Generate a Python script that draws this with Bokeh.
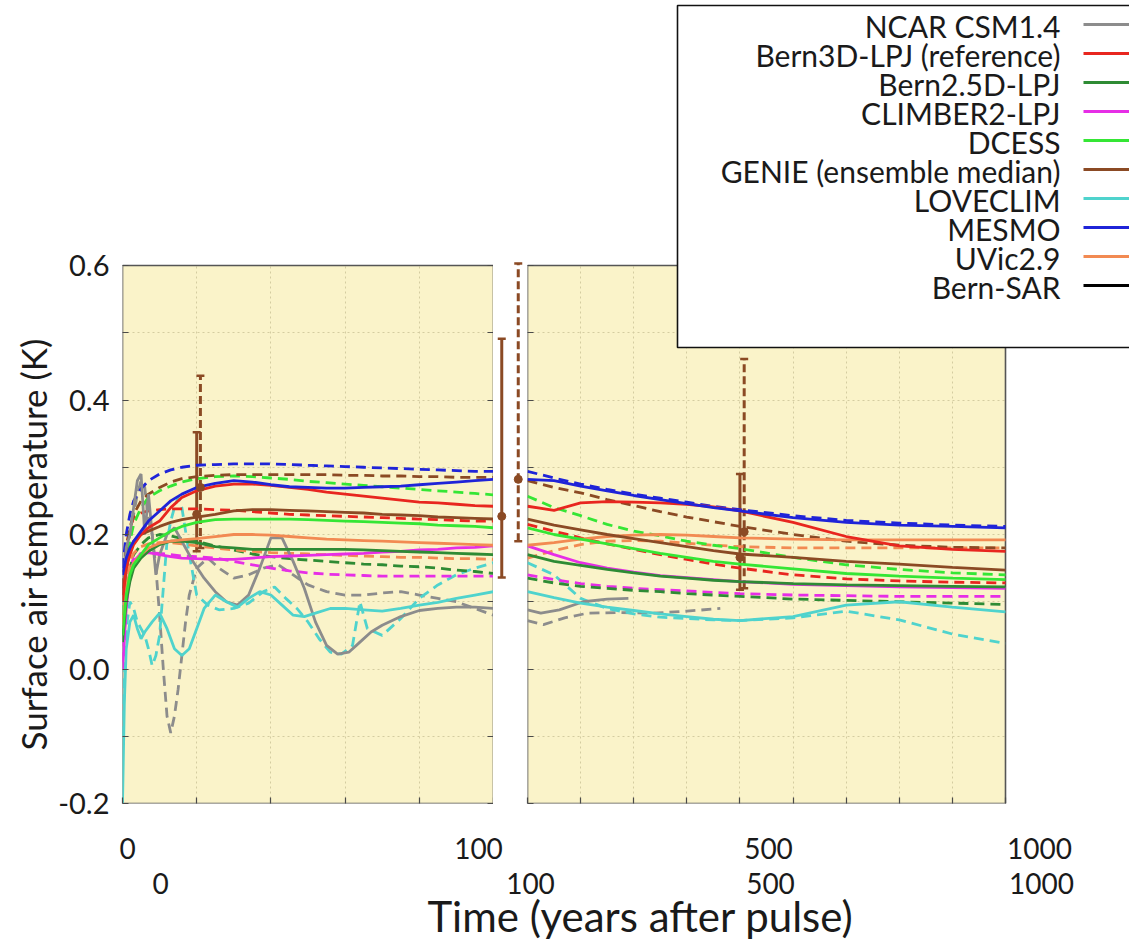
from bokeh.plotting import figure
from bokeh.models import (Range1d, FactorRange, FixedTicker, LinearAxis, Label, BoxAnnotation,
                          Whisker, ColumnDataSource, TeeHead, NumeralTickFormatter, Title)
from bokeh.layouts import row, column
from bokeh.embed import file_html
from bokeh.resources import INLINE

FONT = "Lato"

# ------------------------------------------------------------------ data
MODELS = ["NCAR CSM1.4", "Bern3D-LPJ (reference)", "Bern2.5D-LPJ", "CLIMBER2-LPJ", "DCESS",
          "GENIE (ensemble median)", "LOVECLIM", "MESMO", "UVic2.9", "Bern-SAR"]
COLORS = ["#8c8c8c", "#e8261f", "#2e8b34", "#e62ee6", "#35e635",
          "#8b4a24", "#4fd3cd", "#1f24d8", "#f28a52", "#000000"]

Y_MIN, Y_MAX = -0.2, 0.6
Y_MAJOR = [-0.2, 0, 0.2, 0.4, 0.6]
Y_MINOR = [-0.1, 0.1, 0.3, 0.5]
Y_ALL = [-0.2, -0.1, 0, 0.1, 0.2, 0.3, 0.4, 0.5, 0.6]
X_L = (0, 100)
X_R = (100, 1000)
X_TICKS_L = [0, 20, 40, 60, 80, 100]
X_TICKS_R = [100, 200, 300, 400, 500, 600, 700, 800, 900, 1000]
X_LABELS_L = ["0", "100"]
X_LABELS_R = ["500", "1000"]
X_TITLE = "Time (years after pulse)"
Y_TITLE = "Surface air temperature (K)"

YR_L = [0, 1, 2, 3, 5, 7, 10, 13, 16, 20, 25, 30, 35, 40, 45, 50, 55, 60, 65, 70, 75, 80, 85, 90, 95, 100]
YR_R = [100, 150, 200, 250, 300, 350, 400, 450, 500, 600, 700, 800, 900, 1000]

# solid (a) and dashed (b) runs, years 0-100
mesmo_a_L = [0.14, 0.165, 0.18, 0.19, 0.205, 0.22, 0.235, 0.25, 0.26, 0.27, 0.276, 0.28, 0.278, 0.274, 0.271, 0.27, 0.269, 0.269, 0.27, 0.271, 0.272, 0.274, 0.276, 0.278, 0.28, 0.282]
mesmo_b_L = [0.15, 0.2, 0.23, 0.25, 0.268, 0.28, 0.29, 0.296, 0.3, 0.303, 0.304, 0.305, 0.305, 0.305, 0.304, 0.303, 0.302, 0.301, 0.3, 0.299, 0.298, 0.297, 0.296, 0.295, 0.294, 0.294]
bern3d_a_L = [0.1, 0.15, 0.17, 0.185, 0.2, 0.21, 0.22, 0.24, 0.255, 0.265, 0.272, 0.275, 0.275, 0.273, 0.27, 0.267, 0.263, 0.26, 0.257, 0.254, 0.251, 0.248, 0.247, 0.245, 0.243, 0.242]
bern3d_b_L = [0.12, 0.18, 0.21, 0.225, 0.232, 0.235, 0.237, 0.238, 0.238, 0.238, 0.237, 0.236, 0.234, 0.232, 0.23, 0.229, 0.228, 0.227, 0.226, 0.225, 0.224, 0.223, 0.222, 0.221, 0.22, 0.22]
genie_a_L = [0.11, 0.15, 0.175, 0.19, 0.2, 0.205, 0.212, 0.218, 0.222, 0.226, 0.23, 0.235, 0.237, 0.237, 0.236, 0.235, 0.234, 0.233, 0.232, 0.23, 0.229, 0.228, 0.226, 0.225, 0.224, 0.223]
genie_b_L = [0.12, 0.18, 0.21, 0.23, 0.25, 0.26, 0.27, 0.278, 0.283, 0.286, 0.288, 0.289, 0.289, 0.289, 0.289, 0.289, 0.289, 0.288, 0.288, 0.287, 0.287, 0.286, 0.286, 0.285, 0.285, 0.285]
dcess_a_L = [0.05, 0.11, 0.14, 0.155, 0.17, 0.185, 0.195, 0.205, 0.212, 0.218, 0.222, 0.223, 0.223, 0.223, 0.223, 0.222, 0.221, 0.22, 0.219, 0.218, 0.217, 0.216, 0.214, 0.213, 0.212, 0.21]
dcess_b_L = [0.08, 0.15, 0.19, 0.215, 0.24, 0.255, 0.265, 0.272, 0.278, 0.283, 0.286, 0.287, 0.286, 0.284, 0.282, 0.279, 0.277, 0.275, 0.273, 0.271, 0.269, 0.267, 0.265, 0.263, 0.261, 0.259]
uvic_a_L = [0.06, 0.12, 0.145, 0.158, 0.17, 0.18, 0.187, 0.19, 0.192, 0.194, 0.197, 0.2, 0.2, 0.199, 0.197, 0.195, 0.193, 0.192, 0.191, 0.19, 0.189, 0.188, 0.187, 0.186, 0.185, 0.184]
uvic_b_L = [0.07, 0.13, 0.16, 0.172, 0.182, 0.186, 0.188, 0.188, 0.186, 0.183, 0.18, 0.177, 0.175, 0.173, 0.172, 0.171, 0.17, 0.169, 0.168, 0.167, 0.166, 0.166, 0.165, 0.164, 0.164, 0.163]
bern25_a_L = [0.04, 0.1, 0.13, 0.15, 0.165, 0.175, 0.185, 0.19, 0.19, 0.188, 0.182, 0.18, 0.178, 0.178, 0.178, 0.178, 0.178, 0.178, 0.177, 0.176, 0.175, 0.174, 0.173, 0.172, 0.171, 0.17]
bern25_b_L = [0.05, 0.12, 0.15, 0.17, 0.185, 0.195, 0.2, 0.198, 0.194, 0.19, 0.183, 0.177, 0.171, 0.167, 0.164, 0.162, 0.16, 0.158, 0.156, 0.155, 0.153, 0.152, 0.15, 0.147, 0.145, 0.142]
climber_a_L = [0.0, 0.09, 0.14, 0.16, 0.172, 0.173, 0.17, 0.167, 0.165, 0.164, 0.163, 0.163, 0.165, 0.167, 0.168, 0.169, 0.17, 0.171, 0.172, 0.174, 0.175, 0.177, 0.178, 0.18, 0.181, 0.183]
climber_b_L = [0.01, 0.1, 0.15, 0.165, 0.172, 0.173, 0.172, 0.17, 0.168, 0.167, 0.165, 0.16, 0.155, 0.15, 0.146, 0.143, 0.141, 0.14, 0.139, 0.138, 0.138, 0.138, 0.138, 0.138, 0.138, 0.138]

ncar_a_yrL = [0, 1, 2, 3, 4, 5, 6, 7, 8, 9, 10, 12, 14, 16, 19, 22, 25, 28, 31, 34, 37, 40, 43, 46, 49, 52, 55, 58, 61, 64, 67, 70, 75, 80, 85, 90, 95, 100]
ncar_a_L = [0.1, 0.18, 0.2, 0.24, 0.28, 0.29, 0.2, 0.26, 0.2, 0.14, 0.17, 0.2, 0.21, 0.19, 0.16, 0.135, 0.115, 0.1, 0.095, 0.11, 0.15, 0.195, 0.195, 0.16, 0.12, 0.07, 0.035, 0.022, 0.025, 0.04, 0.055, 0.065, 0.078, 0.087, 0.09, 0.092, 0.092, 0.09]
ncar_b_yrL = [0, 1, 2, 3, 4, 5, 6, 7, 8, 9, 10, 11, 12, 13, 14, 15, 16, 17, 18, 20, 23, 26, 30, 34, 38, 42, 46, 50, 55, 60, 65, 70, 75, 80, 85, 90, 95, 100]
ncar_b_L = [0.1, 0.17, 0.2, 0.23, 0.26, 0.28, 0.27, 0.22, 0.2, 0.15, 0.08, 0.0, -0.07, -0.095, -0.07, -0.03, 0.02, 0.07, 0.11, 0.15, 0.165, 0.15, 0.135, 0.14, 0.15, 0.155, 0.14, 0.125, 0.115, 0.11, 0.11, 0.113, 0.115, 0.11, 0.105, 0.1, 0.09, 0.08]
love_a_yrL = [0, 0.5, 1, 2, 3, 4, 5, 6, 8, 10, 12, 14, 16, 18, 20, 22, 25, 28, 31, 34, 37, 40, 43, 46, 49, 52, 56, 60, 65, 70, 75, 80, 85, 90, 95, 100]
love_a_L = [-0.2, -0.05, 0.03, 0.07, 0.08, 0.06, 0.045, 0.055, 0.07, 0.083, 0.06, 0.03, 0.02, 0.03, 0.06, 0.09, 0.11, 0.1, 0.092, 0.105, 0.115, 0.11, 0.095, 0.08, 0.078, 0.083, 0.09, 0.09, 0.088, 0.086, 0.09, 0.095, 0.099, 0.105, 0.11, 0.115]
love_b_yrL = [0, 1, 2, 3, 4, 5, 6, 7, 8, 9, 10, 11, 12, 13, 14, 15, 16, 18, 20, 23, 26, 30, 34, 38, 41, 44, 47, 50, 53, 56, 59, 62, 64, 66, 70, 75, 80, 85, 90, 95, 100]
love_b_L = [-0.1, 0.06, 0.1, 0.09, 0.07, 0.06, 0.05, 0.03, 0.005, 0.02, 0.05, 0.12, 0.19, 0.22, 0.24, 0.255, 0.24, 0.17, 0.11, 0.095, 0.088, 0.09, 0.098, 0.115, 0.122, 0.105, 0.09, 0.07, 0.045, 0.025, 0.022, 0.035, 0.1, 0.06, 0.05, 0.075, 0.105, 0.125, 0.14, 0.15, 0.158]

# years 100-1000
mesmo_a_R = [0.282, 0.28, 0.272, 0.265, 0.258, 0.252, 0.246, 0.24, 0.235, 0.225, 0.218, 0.214, 0.212, 0.21]
mesmo_b_R = [0.294, 0.284, 0.275, 0.267, 0.26, 0.254, 0.248, 0.242, 0.237, 0.228, 0.221, 0.217, 0.214, 0.212]
bern3d_a_R = [0.242, 0.236, 0.247, 0.249, 0.248, 0.247, 0.245, 0.241, 0.235, 0.218, 0.197, 0.183, 0.178, 0.175]
bern3d_b_R = [0.215, 0.205, 0.195, 0.186, 0.178, 0.17, 0.163, 0.156, 0.15, 0.14, 0.134, 0.131, 0.129, 0.128]
genie_a_R = [0.223, 0.214, 0.207, 0.2, 0.194, 0.188, 0.182, 0.176, 0.171, 0.166, 0.16, 0.156, 0.151, 0.147]
genie_b_R = [0.28, 0.27, 0.262, 0.252, 0.243, 0.234, 0.226, 0.219, 0.212, 0.2, 0.19, 0.184, 0.181, 0.18]
dcess_a_R = [0.21, 0.2, 0.193, 0.186, 0.179, 0.172, 0.166, 0.16, 0.156, 0.149, 0.142, 0.138, 0.135, 0.133]
dcess_b_R = [0.257, 0.24, 0.228, 0.215, 0.205, 0.198, 0.19, 0.184, 0.179, 0.166, 0.155, 0.148, 0.143, 0.14]
uvic_a_R = [0.184, 0.188, 0.193, 0.197, 0.199, 0.2, 0.199, 0.197, 0.195, 0.193, 0.192, 0.192, 0.192, 0.192]
uvic_b_R = [0.165, 0.176, 0.185, 0.19, 0.191, 0.19, 0.187, 0.184, 0.182, 0.18, 0.18, 0.18, 0.18, 0.18]
bern25_a_R = [0.17, 0.16, 0.154, 0.148, 0.143, 0.138, 0.135, 0.132, 0.13, 0.127, 0.125, 0.124, 0.123, 0.122]
bern25_b_R = [0.135, 0.128, 0.123, 0.12, 0.117, 0.115, 0.112, 0.11, 0.108, 0.104, 0.102, 0.1, 0.098, 0.096]
climber_a_R = [0.183, 0.17, 0.158, 0.15, 0.144, 0.139, 0.136, 0.133, 0.13, 0.126, 0.124, 0.122, 0.121, 0.12]
climber_b_R = [0.14, 0.133, 0.127, 0.123, 0.12, 0.118, 0.116, 0.114, 0.112, 0.11, 0.109, 0.108, 0.108, 0.108]
love_a_R = [0.115, 0.106, 0.098, 0.092, 0.087, 0.082, 0.078, 0.074, 0.072, 0.078, 0.095, 0.1, 0.092, 0.085]
love_b_R = [0.158, 0.14, 0.105, 0.09, 0.082, 0.077, 0.075, 0.073, 0.072, 0.076, 0.086, 0.073, 0.052, 0.038]
ncar_a_yrR = [100, 125, 160, 205, 250, 290]
ncar_a_R = [0.088, 0.083, 0.088, 0.1, 0.104, 0.105]
ncar_b_yrR = [100, 130, 170, 213, 275, 337, 400, 463]
ncar_b_R = [0.072, 0.066, 0.076, 0.083, 0.084, 0.083, 0.086, 0.09]

# GENIE ensemble ranges (solid / dashed runs) at 20, 100 and 500 years
EB_T_LEFT = 20
EB_T_RIGHT = 500
EB_MID_NAMES = ["run a", "run b"]
eb_a_lo = [0.175, 0.136, 0.118]
eb_a_hi = [0.352, 0.491, 0.29]
eb_a_mid = [0.23, 0.227, 0.166]
eb_b_lo = [0.18, 0.19, 0.12]
eb_b_hi = [0.436, 0.603, 0.461]
eb_b_mid = [0.27, 0.282, 0.204]

# (model index, dashed?, left x, left y, right x, right y)
SERIES = [
    (0, True, ncar_b_yrL, ncar_b_L, ncar_b_yrR, ncar_b_R),
    (6, True, love_b_yrL, love_b_L, YR_R, love_b_R),
    (3, True, YR_L, climber_b_L, YR_R, climber_b_R),
    (2, True, YR_L, bern25_b_L, YR_R, bern25_b_R),
    (8, True, YR_L, uvic_b_L, YR_R, uvic_b_R),
    (1, True, YR_L, bern3d_b_L, YR_R, bern3d_b_R),
    (4, True, YR_L, dcess_b_L, YR_R, dcess_b_R),
    (5, True, YR_L, genie_b_L, YR_R, genie_b_R),
    (7, True, YR_L, mesmo_b_L, YR_R, mesmo_b_R),
    (0, False, ncar_a_yrL, ncar_a_L, ncar_a_yrR, ncar_a_R),
    (6, False, love_a_yrL, love_a_L, YR_R, love_a_R),
    (3, False, YR_L, climber_a_L, YR_R, climber_a_R),
    (2, False, YR_L, bern25_a_L, YR_R, bern25_a_R),
    (8, False, YR_L, uvic_a_L, YR_R, uvic_a_R),
    (4, False, YR_L, dcess_a_L, YR_R, dcess_a_R),
    (5, False, YR_L, genie_a_L, YR_R, genie_a_R),
    (1, False, YR_L, bern3d_a_L, YR_R, bern3d_a_R),
    (7, False, YR_L, mesmo_a_L, YR_R, mesmo_a_R),
]

# ------------------------------------------------------------------ layout / style (pixels)
BG = "#faf3c9"
FRAME = "#555555"
TICK = "#4a4a4a"
GRID = "#d4cca0"
BROWN = "#8b4a24"
TXT = "#1a1a1a"
DASH = "10 6"
LW = 2.8

ROW_H = 830            # height of the panel row
PANEL_TOP = 265        # top of the panels
PANEL_BOTTOM = 803     # bottom of the panels
PANEL_H = PANEL_BOTTOM - PANEL_TOP
LEFT_W, LEFT_BORDER = 493, 122
MID_W = 33
RIGHT_W = 603
RIGHT_PANEL_PX = 478   # pixel width of the 100-1000 panel
RIGHT_FRAME_PX = RIGHT_W - 1

# all frames run from the top of the page; the panels are drawn inside them
y_rng = Range1d(Y_MIN, Y_MAX + (Y_MAX - Y_MIN) * PANEL_TOP / PANEL_H)
x_rng_r = Range1d(X_R[0], X_R[1] + (X_R[1] - X_R[0]) * (RIGHT_FRAME_PX - RIGHT_PANEL_PX) / RIGHT_PANEL_PX)


def tick_axis(ax, ticks):
    """axis that draws only inward tick marks (no labels)"""
    ax.ticker = FixedTicker(ticks=[], minor_ticks=ticks)
    ax.axis_line_color = None
    ax.minor_tick_in = 6
    ax.minor_tick_out = 0
    ax.major_tick_in = 0
    ax.major_tick_out = 0
    ax.minor_tick_line_color = TICK
    ax.minor_tick_line_width = 1.2
    ax.major_label_standoff = 0


def panel(p, xr, xticks):
    p.background_fill_color = "white"
    p.border_fill_color = "white"
    p.outline_line_color = None
    p.quad(left=[xr[0]], right=[xr[1]], bottom=[Y_MIN], top=[Y_MAX],
           fill_color=BG, line_color=None, level="image")
    p.xgrid.ticker = FixedTicker(ticks=xticks[1:-1])
    p.ygrid.ticker = FixedTicker(ticks=Y_ALL[1:-1])
    for g in p.grid:
        g.grid_line_color = GRID
        g.grid_line_dash = "2 3"
        g.grid_line_width = 1
    p.xgrid.cross_bounds = (Y_MIN, Y_MAX)
    p.ygrid.cross_bounds = xr
    # panel border drawn above the grid
    p.quad(left=[xr[0]], right=[xr[1]], bottom=[Y_MIN], top=[Y_MAX],
           fill_color=None, line_color=FRAME, line_width=1.6)
    tick_axis(p.xaxis[0], xticks)


# ---- left panel (0-100 years)
left = figure(width=LEFT_W, height=ROW_H, x_range=Range1d(*X_L), y_range=y_rng,
              output_backend="svg", toolbar_location=None,
              min_border_left=LEFT_BORDER, min_border_right=0,
              min_border_top=0, min_border_bottom=ROW_H - PANEL_BOTTOM)
panel(left, X_L, X_TICKS_L)
ya = left.yaxis[0]
ya.ticker = FixedTicker(ticks=Y_MAJOR, minor_ticks=Y_MINOR)
ya.formatter = NumeralTickFormatter(format="0.0")
ya.axis_line_color = None
ya.major_tick_in = 6
ya.major_tick_out = 0
ya.minor_tick_in = 6
ya.minor_tick_out = 0
ya.major_tick_line_color = TICK
ya.minor_tick_line_color = TICK
ya.major_label_text_font = FONT
ya.major_label_text_font_size = "29px"
ya.major_label_text_color = TXT
ya.major_label_standoff = 13
left.add_layout(Title(text=Y_TITLE, align="left", offset=PANEL_BOTTOM - 750, text_font=FONT,
                      text_font_size="35px", text_font_style="normal", text_color=TXT,
                      standoff=4), "left")
ax_lr = LinearAxis()
tick_axis(ax_lr, Y_ALL)
left.add_layout(ax_lr, "right")

# ---- gap between the panels (ranges at 100 years)
mid = figure(width=MID_W, height=ROW_H, x_range=FactorRange(factors=EB_MID_NAMES), y_range=y_rng,
             output_backend="svg", toolbar_location=None, x_axis_location=None, y_axis_location=None,
             min_border_left=0, min_border_right=0,
             min_border_top=0, min_border_bottom=ROW_H - PANEL_BOTTOM)
mid.outline_line_color = None
mid.background_fill_color = "white"
mid.border_fill_color = "white"
mid.grid.visible = False

# ---- right panel (100-1000 years)
right = figure(width=RIGHT_W, height=ROW_H, x_range=x_rng_r, y_range=y_rng,
               output_backend="svg", toolbar_location=None,
               min_border_left=1, min_border_right=0,
               min_border_top=0, min_border_bottom=ROW_H - PANEL_BOTTOM)
panel(right, X_R, X_TICKS_R)
tick_axis(right.yaxis[0], Y_ALL)

# ---- model curves
for m, dashed, xl, yl, xr, yr in SERIES:
    kw = dict(line_color=COLORS[m], line_width=LW)
    if dashed:
        kw["line_dash"] = DASH
    left.line(xl, yl, **kw)
    right.line(xr, yr, **kw)


# ---- ensemble ranges
def add_range(p, src, dashed):
    extra = dict(line_dash="8 4") if dashed else {}
    p.add_layout(Whisker(source=src, base="x", lower="lo", upper="hi", dimension="height",
                         line_color=BROWN, line_width=3,
                         upper_head=TeeHead(size=8, line_color=BROWN, line_width=2.5),
                         lower_head=TeeHead(size=8, line_color=BROWN, line_width=2.5), **extra))
    p.scatter("x", "mid", source=src, size=8, color=BROWN, marker="circle")


add_range(left, ColumnDataSource(dict(x=[EB_T_LEFT], lo=[eb_a_lo[0]], hi=[eb_a_hi[0]], mid=[eb_a_mid[0]])), False)
add_range(left, ColumnDataSource(dict(x=[EB_T_LEFT + 1], lo=[eb_b_lo[0]], hi=[eb_b_hi[0]], mid=[eb_b_mid[0]])), True)
add_range(mid, ColumnDataSource(dict(x=[EB_MID_NAMES[0]], lo=[eb_a_lo[1]], hi=[eb_a_hi[1]], mid=[eb_a_mid[1]])), False)
add_range(mid, ColumnDataSource(dict(x=[EB_MID_NAMES[1]], lo=[eb_b_lo[1]], hi=[eb_b_hi[1]], mid=[eb_b_mid[1]])), True)
add_range(right, ColumnDataSource(dict(x=[EB_T_RIGHT], lo=[eb_a_lo[2]], hi=[eb_a_hi[2]], mid=[eb_a_mid[2]])), False)
add_range(right, ColumnDataSource(dict(x=[EB_T_RIGHT + 8], lo=[eb_b_lo[2]], hi=[eb_b_hi[2]], mid=[eb_b_mid[2]])), True)

# ---- legend (text right-aligned, line sample to its right), canvas pixels of the right figure
LEG_LEFT, LEG_TOP, LEG_BOTTOM = 151, 5, 347
LEG_TEXT_RIGHT, LEG_SAMPLE_LEFT = 534, 557
LEG_ROW0_MID, LEG_ROW0_LINE, LEG_STEP = 25, 24, 29
right.add_layout(BoxAnnotation(left=LEG_LEFT, right=RIGHT_W + 20, top=LEG_TOP, bottom=LEG_BOTTOM,
                               left_units="canvas", right_units="canvas",
                               top_units="canvas", bottom_units="canvas",
                               fill_color="white", fill_alpha=1.0,
                               line_color="#111111", line_alpha=1.0, line_width=1.6))
for i, name in enumerate(MODELS):
    right.add_layout(Label(x=LEG_TEXT_RIGHT, y=LEG_ROW0_MID + i * LEG_STEP, x_units="canvas", y_units="canvas",
                           text=name, text_align="right", text_baseline="middle", text_font=FONT,
                           text_font_size="30px", text_color=TXT))
    yl = LEG_ROW0_LINE + i * LEG_STEP
    right.add_layout(BoxAnnotation(left=LEG_SAMPLE_LEFT, right=RIGHT_W + 20, top=yl - 1.4, bottom=yl + 1.4,
                                   left_units="canvas", right_units="canvas",
                                   top_units="canvas", bottom_units="canvas",
                                   fill_color=COLORS[i], fill_alpha=1.0, line_color=None))

# ---- bottom strip: the two rows of tick labels and the axis title (strip pixels, y up)
STRIP_W, STRIP_H = LEFT_W + MID_W + RIGHT_W, 112
bot = figure(width=STRIP_W, height=STRIP_H, x_range=Range1d(0, STRIP_W), y_range=Range1d(0, STRIP_H),
             output_backend="svg", toolbar_location=None, x_axis_location=None, y_axis_location=None,
             min_border=0)
bot.outline_line_color = None
bot.grid.visible = False
ROW1 = [(X_LABELS_L[0], 127), (X_LABELS_L[1], 478), (X_LABELS_R[0], 768), (X_LABELS_R[1], 1039)]
ROW2 = [(X_LABELS_L[0], 160), (X_LABELS_L[1], 530), (X_LABELS_R[0], 770), (X_LABELS_R[1], 1041)]
for txt, xp in ROW1:
    bot.add_layout(Label(x=xp, y=STRIP_H - 18, text=txt, text_align="center", text_baseline="middle",
                         text_font=FONT, text_font_size="28px", text_color=TXT))
for txt, xp in ROW2:
    bot.add_layout(Label(x=xp, y=STRIP_H - 53, text=txt, text_align="center", text_baseline="middle",
                         text_font=FONT, text_font_size="28px", text_color=TXT))
bot.add_layout(Label(x=640, y=27, text=X_TITLE, text_align="center", text_baseline="middle",
                     text_font=FONT, text_font_size="42px", text_color=TXT))

layout = column(row(left, mid, right, spacing=0), bot, spacing=0)
open("out.html", "w").write(file_html(layout, INLINE))
